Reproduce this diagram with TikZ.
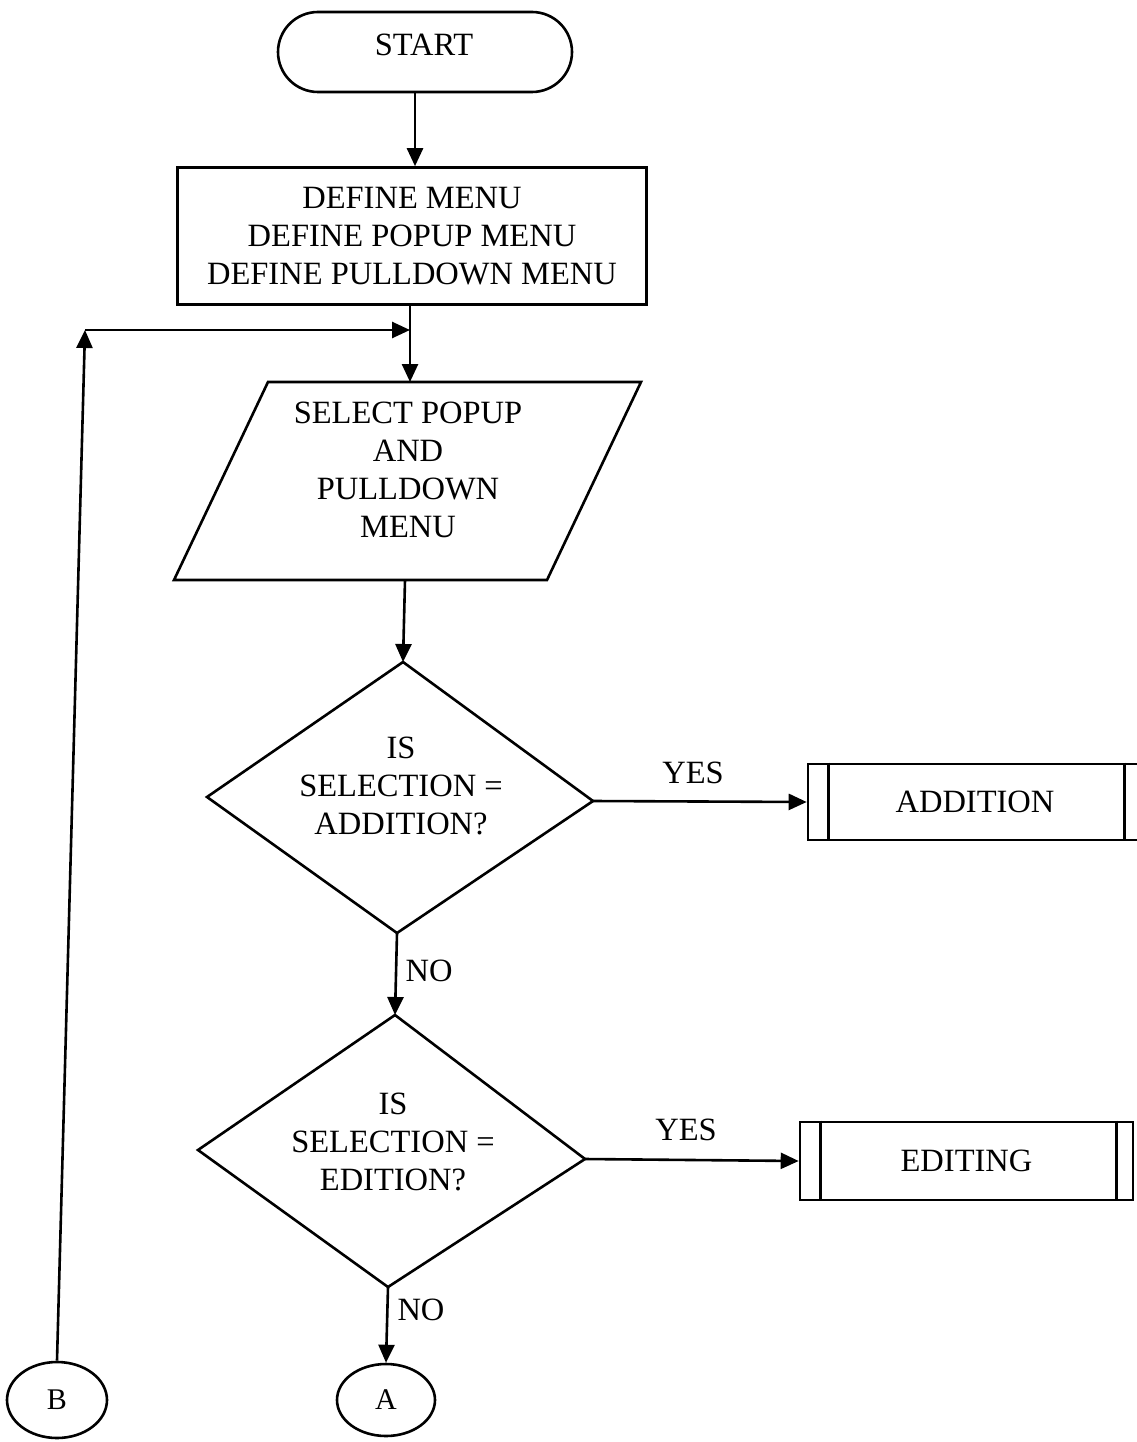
\documentclass[tikz,border=0pt]{standalone}
\usepackage{fontspec}
\setmainfont{Liberation Serif}
\usetikzlibrary{arrows.meta,shapes.geometric}
\begin{document}
\begin{tikzpicture}[x=1pt,y=-1pt,
  line width=2.6pt,
  txt/.style={font=\fontsize{32.5}{38}\selectfont, align=center, inner sep=0pt},
  arr/.style={-{Triangle[length=18pt,width=16pt]}},
  shapebox/.style={draw, inner sep=0pt},
  subproc/.style={draw, inner sep=0pt, font=\fontsize{32.5}{38}\selectfont},
  conn/.style={draw, ellipse, inner sep=0pt, font=\fontsize{30}{34}\selectfont}
]
\useasboundingbox (0,0) rectangle (1137,1442);

% START terminal
\node[shapebox, rounded corners=40pt, minimum width=294pt, minimum height=80pt] (start) at (425,52) {};
\node[txt] (starttxt) at (424,45) {START};

% define box
\node[shapebox, txt, draw, minimum width=469pt, minimum height=137pt] (def) at (412,236)
  {DEFINE MENU\\DEFINE POPUP MENU\\DEFINE PULLDOWN MENU};

% parallelogram
\coordinate (pa1) at (174,580);
\coordinate (pa2) at (268,382);
\coordinate (pa3) at (641,382);
\coordinate (pa4) at (547,580);
\draw (pa1) -- (pa2) -- (pa3) -- (pa4) -- cycle;
\coordinate (paratop) at (410,382);
\coordinate (parabot) at (405,580);
\node[txt] (paratxt) at (408,470) {SELECT POPUP\\AND\\PULLDOWN\\MENU};

% diamond 1
\coordinate (d1t) at (403,662);
\coordinate (d1r) at (593,801);
\coordinate (d1b) at (397,933);
\coordinate (d1l) at (207,797);
\draw (d1t) -- (d1r) -- (d1b) -- (d1l) -- cycle;
\node[txt] (d1txt) at (401,786) {IS\\SELECTION =\\ADDITION?};

% diamond 2
\coordinate (d2t) at (395,1015);
\coordinate (d2r) at (585,1159);
\coordinate (d2b) at (388,1287);
\coordinate (d2l) at (198,1150);
\draw (d2t) -- (d2r) -- (d2b) -- (d2l) -- cycle;
\node[txt] (d2txt) at (393,1142) {IS\\SELECTION =\\EDITION?};

% predefined processes
\node[subproc, minimum width=337pt, minimum height=76pt] (add) at (976.5,802) {\hspace*{-3pt}ADDITION};
\draw ([xshift=22pt]add.north west) -- ([xshift=22pt]add.south west);
\draw ([xshift=-22pt]add.north east) -- ([xshift=-22pt]add.south east);

\node[subproc, minimum width=333pt, minimum height=78pt] (edit) at (966.5,1161) {EDITING};
\draw ([xshift=22pt]edit.north west) -- ([xshift=22pt]edit.south west);
\draw ([xshift=-18pt]edit.north east) -- ([xshift=-18pt]edit.south east);

% connectors
\node[conn, minimum width=98pt, minimum height=72pt] (A) at (386,1400) {A};
\node[conn, minimum width=100pt, minimum height=76pt] (B) at (57,1400) {B};

\draw[arr] (start.south -| 415,0) -- (def.north -| 415,0);
\draw[arr] (def.south -| paratop) -- (paratop);
\draw[arr] (parabot) -- (d1t);
\draw[arr] (d1r) -- (add.west);
\draw[arr] (d1b) -- (d2t);
\draw[arr] (d2r) -- (edit.west);
\draw[arr] (d2b) -- (A.north);

\coordinate (loopc) at (85,330);
\coordinate (loopj) at (410,330);
\draw[arr] (B.north) -- (loopc);
\draw[arr] (loopc) -- (loopj);

% labels
\node[txt] (yes1) at (693,773) {YES};
\node[txt] (yes2) at (686,1130) {YES};
\node[txt] (no1) at (429,971) {NO};
\node[txt] (no2) at (421,1310) {NO};
\end{tikzpicture}
\end{document}
